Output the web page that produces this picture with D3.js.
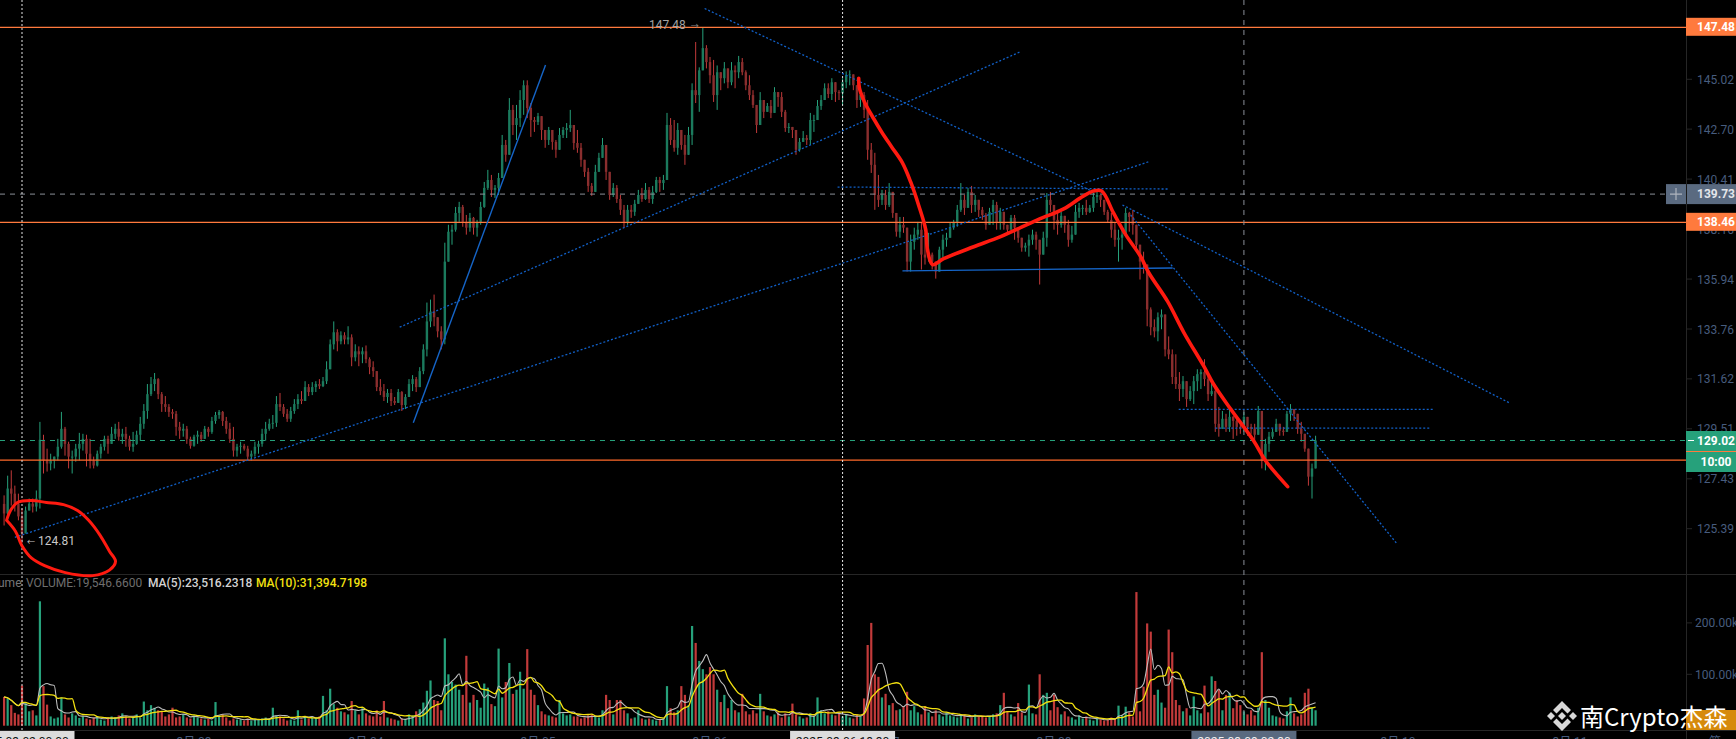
<!DOCTYPE html>
<html><head><meta charset="utf-8">
<style>html,body{margin:0;padding:0;background:#000;overflow:hidden}svg{display:block}text{font-family:Roboto,"Noto Sans CJK SC",sans-serif}</style>
<script src="https://cdn.jsdelivr.net/npm/d3@7/dist/d3.min.js"></script>
</head><body><svg id="c" width="1736" height="739"></svg>
<script>
const closes=[126.01,127.03,126.82,126.41,125.89,125.20,126.13,126.41,126.29,126.62,129.05,128.19,128.06,128.19,128.35,128.76,129.51,128.88,128.35,128.35,
128.68,128.88,129.09,128.47,128.19,127.98,128.47,128.76,129.09,128.88,129.30,129.51,129.18,129.30,129.09,128.76,128.88,129.26,129.72,130.26,
130.97,131.40,131.61,130.97,130.55,130.43,130.22,130.14,129.59,129.43,129.51,129.09,128.80,129.18,129.26,129.09,129.51,129.38,129.84,130.09,
130.22,129.84,129.51,129.09,128.60,128.76,128.80,128.68,128.35,128.47,128.76,128.88,129.30,129.51,129.72,129.76,130.55,130.43,130.14,129.93,
130.26,130.55,130.76,130.68,131.27,131.06,131.27,131.40,131.31,131.52,132.03,133.10,133.62,133.23,133.49,133.31,133.40,132.54,132.80,132.67,
132.80,132.46,132.12,131.95,131.27,131.10,130.85,131.02,130.68,130.60,131.06,130.51,130.85,131.40,131.61,131.27,131.95,132.88,134.09,134.52,
134.27,133.66,133.31,136.71,138.04,138.13,138.88,139.15,138.48,138.22,138.66,138.22,138.48,139.15,140.01,140.37,139.92,140.01,140.46,141.97,
141.52,143.59,142.89,143.21,144.05,144.74,143.68,143.12,143.03,143.30,142.66,142.20,142.66,142.11,141.75,142.43,142.66,142.75,142.89,142.06,
141.84,141.29,140.74,140.10,139.83,140.74,141.38,141.97,140.74,139.69,140.01,139.51,139.02,138.48,139.02,138.93,139.29,139.69,139.51,139.92,
139.51,139.83,140.37,140.23,140.37,142.89,142.20,141.84,142.66,141.97,141.52,142.43,144.51,144.28,145.44,146.49,145.83,145.21,144.28,145.35,
145.07,145.53,144.88,145.44,145.35,145.83,145.35,144.74,144.28,143.82,142.89,144.05,143.50,143.77,143.45,144.42,144.19,143.50,142.75,142.80,
142.66,141.75,142.11,142.29,142.20,143.12,143.12,143.77,144.05,144.60,144.33,144.88,144.42,144.37,144.88,145.21,145.25,144.74,144.05,144.28,
143.59,141.75,141.06,139.69,139.47,139.69,139.24,139.83,138.88,138.04,138.35,138.22,136.71,137.59,137.91,138.13,137.02,136.89,137.02,136.71,
136.27,137.24,137.68,137.77,138.22,138.48,139.02,139.47,139.11,139.83,139.24,139.47,139.02,138.79,138.35,138.93,139.24,138.48,138.93,138.35,
138.13,138.66,138.22,137.77,137.33,137.42,137.68,137.91,137.68,137.02,137.77,139.47,139.24,138.57,138.35,138.75,138.35,137.68,137.91,138.93,
139.11,139.11,138.93,139.11,139.60,139.69,139.47,138.93,138.57,138.13,137.68,137.77,137.91,138.88,138.70,138.35,137.46,136.71,136.58,134.61,
133.84,133.66,134.27,134.39,132.88,132.67,131.70,131.40,131.19,131.52,130.76,131.10,131.52,131.82,131.91,131.61,130.97,131.10,129.72,129.51,
129.93,129.59,130.01,129.84,129.59,129.51,130.01,129.59,129.51,129.26,130.26,128.19,128.88,129.18,129.38,129.72,129.43,129.38,130.14,130.34,
130.14,129.51,129.30,128.68,127.52,127.86,129.02];
const highs=[126.75,127.56,127.78,127.15,126.82,126.21,126.29,126.62,126.62,126.95,129.80,129.26,128.68,128.47,128.35,129.09,130.22,129.59,128.97,128.60,
128.88,129.34,129.30,129.26,129.09,128.35,128.60,128.88,129.22,129.22,129.59,129.72,129.80,129.51,129.59,129.22,129.38,129.43,130.01,130.55,
131.40,131.70,131.87,131.65,131.06,130.89,130.55,130.34,130.26,129.80,129.72,129.63,129.18,129.26,129.43,129.38,129.63,129.59,130.01,130.22,
130.30,130.26,130.01,129.76,129.59,128.88,128.97,128.88,128.80,128.60,128.97,129.01,129.51,129.80,129.93,130.09,130.89,131.02,130.55,130.34,
130.43,130.76,130.97,131.10,131.52,131.40,131.48,131.52,131.61,131.70,132.37,133.31,134.09,133.75,133.66,133.62,133.88,133.53,133.10,133.01,
132.97,133.05,132.54,132.37,131.82,131.61,131.40,131.19,131.19,130.85,131.19,131.10,130.97,131.61,131.78,131.70,132.12,133.10,134.91,135.04,
135.26,134.27,133.88,137.55,138.35,138.35,139.15,139.38,139.24,138.79,138.88,138.70,138.57,139.38,140.28,140.83,140.60,140.14,140.69,142.43,
142.20,144.14,143.82,143.82,144.51,144.97,144.97,143.91,143.26,143.45,143.21,142.66,142.80,142.66,142.20,142.75,142.80,142.98,143.59,142.75,
142.66,142.06,141.29,140.92,140.23,141.06,141.61,142.29,141.75,140.74,140.23,140.14,139.69,139.24,139.24,139.24,139.47,139.92,140.01,140.23,
140.05,140.10,140.51,140.51,140.60,143.45,143.21,143.12,142.98,142.43,142.43,142.80,144.83,146.78,145.58,147.48,146.63,146.07,145.93,145.67,
145.35,145.83,145.53,145.83,145.67,146.12,146.02,145.44,145.21,144.51,143.59,144.42,144.05,143.91,144.05,144.65,144.42,144.42,143.59,142.98,
142.80,142.29,142.29,142.61,142.43,143.45,143.36,144.05,144.28,144.83,144.83,145.07,144.83,144.51,145.07,145.39,145.44,145.21,144.74,144.51,
144.42,144.05,142.06,141.61,140.60,139.92,139.92,140.23,139.56,138.88,138.70,138.70,137.55,137.91,138.22,138.48,138.48,137.99,137.99,137.11,
136.67,137.37,137.91,137.99,138.44,138.57,139.24,140.23,139.69,140.01,140.10,139.69,139.47,139.15,138.88,139.11,139.47,139.38,139.11,138.93,
138.35,138.79,138.79,138.13,137.77,137.55,137.91,138.13,138.04,137.37,138.04,139.78,139.83,138.79,138.93,138.93,138.66,138.57,138.30,139.24,
139.33,139.24,139.47,139.24,139.78,139.92,139.69,139.47,139.02,138.88,138.44,138.13,138.13,139.11,138.93,139.02,138.04,137.37,137.15,136.49,
134.70,134.18,134.48,134.61,133.84,133.44,132.88,132.67,131.91,131.74,131.31,131.31,131.74,132.03,132.03,132.46,131.91,131.61,131.27,130.43,
130.26,130.14,130.34,130.05,130.01,129.84,130.22,129.84,129.72,129.72,130.47,130.26,129.09,129.38,129.51,129.93,129.59,129.59,130.26,130.55,
130.34,129.93,129.80,129.30,128.68,128.06,129.22];
const lows=[125.52,125.81,126.33,126.09,125.73,124.81,125.52,126.13,126.05,126.09,126.21,127.65,127.73,127.78,127.86,128.19,128.68,128.39,127.86,127.65,
128.14,128.19,128.60,127.94,127.86,127.86,127.94,128.27,128.60,128.47,128.88,129.09,129.01,128.88,128.76,128.60,128.55,128.84,129.01,129.51,
129.93,130.89,131.10,130.76,130.22,130.22,130.01,129.93,129.22,129.09,129.18,128.88,128.68,128.76,128.88,128.97,129.09,129.18,129.30,129.72,
129.93,129.63,129.30,128.92,128.35,128.35,128.47,128.60,128.19,128.19,128.35,128.47,128.76,129.01,129.43,129.51,129.59,130.26,130.01,129.80,
129.80,130.14,130.34,130.55,130.76,130.89,130.93,131.06,131.19,131.27,131.40,132.20,132.88,132.80,133.10,133.10,133.10,132.16,132.37,132.16,
132.29,132.29,131.82,131.70,131.10,130.93,130.68,130.60,130.47,130.51,130.64,130.26,130.34,130.85,131.10,131.06,131.27,131.82,132.58,133.84,
133.88,133.40,132.88,133.10,136.71,137.46,138.04,138.48,138.26,137.91,138.04,137.91,137.82,138.35,139.11,139.92,139.60,139.56,139.69,140.46,
141.20,141.52,142.43,142.20,142.80,143.36,143.21,142.34,142.57,142.89,142.20,141.84,141.97,141.75,141.38,141.84,142.29,142.29,142.57,141.75,
141.61,140.97,140.51,139.83,139.65,140.14,140.74,141.52,140.37,139.47,139.60,139.33,138.79,138.22,138.35,138.66,138.75,139.29,139.38,139.47,
139.33,139.29,139.78,139.83,139.92,140.60,141.97,141.66,141.52,141.75,141.06,141.75,141.97,143.91,143.50,145.44,145.53,144.83,143.96,143.59,
144.51,144.83,144.60,144.74,144.60,145.07,145.21,144.51,144.05,143.68,142.52,142.89,143.21,143.50,143.21,143.73,143.73,143.26,142.57,142.52,
142.29,141.52,141.66,142.11,141.97,141.97,142.57,143.12,143.59,144.05,144.14,144.05,143.96,144.05,143.82,144.60,144.74,144.51,143.68,143.73,
143.21,141.29,140.69,139.02,139.15,139.24,139.02,139.15,138.66,137.82,137.77,137.99,136.27,136.27,137.24,137.68,136.36,136.58,136.71,136.36,
135.96,136.45,136.89,137.37,137.77,138.13,138.26,138.93,138.79,139.24,138.88,138.93,138.70,138.57,138.13,138.39,138.35,138.13,138.13,138.13,
137.91,138.13,137.68,137.55,137.15,137.15,136.93,137.46,137.24,135.70,137.02,137.37,138.93,138.13,137.91,138.22,137.99,137.37,137.55,138.35,
138.66,138.79,138.79,138.88,138.93,139.33,139.15,138.79,138.44,137.77,137.37,136.71,137.24,137.99,138.04,137.91,137.24,135.92,136.18,133.88,
133.49,133.40,133.23,133.75,132.58,132.46,131.40,131.19,130.68,130.85,130.43,130.68,130.55,131.10,131.19,131.31,130.68,130.89,129.38,129.18,
129.59,129.38,129.38,129.09,129.22,129.30,129.38,129.22,129.30,129.01,129.38,127.86,127.78,128.55,129.09,129.38,129.22,129.22,129.51,129.84,
129.84,129.30,128.97,128.55,127.15,126.62,127.86];
const volumes=[56,52,40,25,22,78,44,28,30,20,242,77,41,18,14,16,55,22,16,24,
20,15,18,14,12,16,18,12,10,16,18,16,20,24,18,14,16,22,15,47,
30,40,35,30,28,18,22,35,16,18,22,16,14,20,16,14,12,14,10,46,
20,22,16,10,14,12,12,10,14,10,12,12,14,16,12,35,20,18,14,10,
12,10,30,12,18,14,16,14,18,58,30,72,42,35,28,26,22,48,30,22,
34,24,20,18,30,18,48,16,14,12,10,14,12,22,20,28,32,45,68,88,
50,48,30,170,100,85,80,70,60,136,45,60,50,35,82,74,42,38,150,55,
85,122,62,70,105,72,149,70,60,40,28,22,20,18,16,50,24,20,22,18,
18,14,16,20,22,18,16,30,60,50,22,50,50,30,24,14,16,30,14,12,
14,12,10,12,14,77,34,26,30,77,60,40,194,161,126,110,100,114,100,70,
46,60,34,50,30,26,62,28,22,30,24,62,28,20,18,22,26,16,24,18,
43,22,18,14,16,24,18,55,30,24,28,22,20,26,18,22,16,14,22,18,
53,157,200,100,95,55,62,40,44,30,32,38,66,30,38,26,22,38,26,18,
30,22,18,26,20,18,16,20,22,14,16,22,18,20,16,18,22,24,40,64,
28,22,18,44,26,20,80,24,22,100,60,64,30,60,36,22,28,18,16,12,
20,14,18,12,10,14,12,10,12,16,14,39,20,37,26,18,260,28,76,199,
183,60,70,45,35,187,143,50,40,28,34,20,57,30,24,78,26,96,87,70,
30,60,64,34,50,40,28,22,30,20,35,143,50,35,20,18,16,14,28,55,
24,18,22,64,72,35,30];
const firstOpen=126.40;
const seriesStart="2025-03-01T21:30:00Z";
const priceTicks=[145.02,142.70,140.41,138.16,135.94,133.76,131.62,129.51,127.43,125.39];
const volumeTicks=[200,100];
const dayTicks=[["2025-03-03","3月 03"],["2025-03-04","3月 04"],["2025-03-05","3月 05"],["2025-03-06","3月 06"],["2025-03-07","3月 07"],["2025-03-08","3月 08"],["2025-03-10","3月 10"],["2025-03-11","3月 11"]];
const highLevels=[147.48,138.46];
const lastPrice=129.02, orderLevel=128.20, crossPrice=139.73, lowPrice=124.81;
const crossBars=[{bar:5,label:"2025-03-02 00:00",kind:"light"},{bar:234,label:"2025-03-06 18:30",kind:"light"},{bar:346,label:"2025-03-09 02:30",kind:"dark"}];
// drawings: [bar index, price]
const riseLow=[[3.0,125.04],[319.4,141.2]];
const riseHigh=[[110.4,133.84],[283.4,146.3]];
const steepSolid=[[114.2,129.76],[151.1,145.69]];
const fallLong=[[195.5,148.38],[304,139.83]];
const fallRight=[[312.1,139.24],[420.1,130.60]];
const fallSteep=[[314.4,138.79],[388.6,124.8]];
const flatTop=[[232.6,140.05],[324.8,139.96]];
const flatSolid=[[250.7,136.30],[326.1,136.43]];
const flatLow1=[[327.8,130.33],[398.8,130.33]];
const flatLow2=[[338,129.54],[397.8,129.54]];
const redPath=[[238.5,145.07],[238.7,144.60],[240.1,143.96],[242.4,143.26],[244.9,142.57],[247.7,141.88],[250.7,141.15],[253,140.28],[255.2,139.24],[257.2,138.13],[257.7,137.24],[259.1,136.58],[262.2,136.84],[270.6,137.37],[278.1,137.82],[288.4,138.57],[295.7,139.06],[300.4,139.56],[304,139.87],[306.3,139.87],[309.6,138.88],[313,137.91],[317.2,136.93],[319.4,136.23],[324.7,134.96],[329.2,133.62],[334.8,132.16],[337.5,131.40],[342.3,130.34],[348.7,129.01],[352,128.19],[358.2,127.11]];
const redLoop=[[0.7,125.73],[1.8,126.13],[3.7,126.46],[7.6,126.54],[11.8,126.46],[16.6,126.37],[20.5,126.13],[23.6,125.73],[26.8,125.12],[29.4,124.48],[31.1,124.07],[29.4,123.72],[24.7,123.50],[17.1,123.62],[11.3,123.9],[7.6,124.21],[4.9,124.72],[3.2,125.28],[0.7,125.73]];

const svg=d3.select("#c");
const t0=+new Date(seriesStart), STEP=30*60000;
const timeOf=b=>new Date(t0+b*STEP);
const xT=d3.scaleUtc().domain([new Date("2025-03-02T00:00:00Z"),new Date("2025-03-11T00:00:00Z")]).range([22,1570]);
const x=b=>xT(timeOf(b));
const y=d3.scaleLog().domain([147.48,125.39]).range([27.3,528.7]);
const v=d3.scaleLinear().domain([0,200]).range([725.7,622.9]);
const GREEN="#26a17b",RED="#c23a3a",GD="#1b7a5d",RD="#8a2e2e",AX="#262626",TICK="#475c7e";
const opens=closes.map((c,i)=>i?closes[i-1]:firstOpen);
const candles=closes.map((c,i)=>({i,o:opens[i],c,h:highs[i],l:lows[i],vol:volumes[i],up:c>=opens[i]}));

// frame
const g=svg.append("g");
g.append("line").attr("x1",0).attr("x2",1736).attr("y1",574.5).attr("y2",574.5).attr("stroke",AX);
g.append("line").attr("x1",0).attr("x2",1736).attr("y1",730.5).attr("y2",730.5).attr("stroke",AX);
g.append("line").attr("x1",1686.5).attr("x2",1686.5).attr("y1",0).attr("y2",739).attr("stroke",AX);

// volume
const gv=svg.append("g");
gv.selectAll("rect").data(candles).join("rect").attr("x",d=>x(d.i)-1.1).attr("width",2.2)
 .attr("y",d=>v(d.vol)).attr("height",d=>v(0)-v(d.vol)).attr("fill",d=>d.up?GREEN:RED);
const rolling=n=>volumes.map((_,i)=>d3.mean(volumes.slice(Math.max(0,i-n+1),i+1)));
const vline=d3.line().x((d,i)=>x(i)).y(d=>v(d)).curve(d3.curveMonotoneX);
gv.append("path").attr("d",vline(rolling(5))).attr("fill","none").attr("stroke","#bdbdbd").attr("stroke-width",1.1);
gv.append("path").attr("d",vline(rolling(10))).attr("fill","none").attr("stroke","#f2e010").attr("stroke-width",1.3);

// candles
const gc=svg.append("g");
gc.selectAll("line").data(candles).join("line").attr("x1",d=>x(d.i)).attr("x2",d=>x(d.i))
 .attr("y1",d=>y(Math.max(d.h,d.o,d.c))).attr("y2",d=>y(Math.min(d.l,d.o,d.c)))
 .attr("stroke",d=>d.up?GREEN:RED).attr("stroke-width",1);
gc.selectAll("rect").data(candles).join("rect").attr("x",d=>x(d.i)-1.2).attr("width",2.4)
 .attr("y",d=>y(Math.max(d.o,d.c))).attr("height",d=>Math.max(1,Math.abs(y(d.o)-y(d.c))))
 .attr("fill",d=>d.up?GD:RD);

// level lines
const hl=(p,stroke,w,dash)=>svg.append("line").attr("x1",0).attr("x2",1686).attr("y1",y(p)).attr("y2",y(p)).attr("stroke",stroke).attr("stroke-width",w).attr("stroke-dasharray",dash||null);
highLevels.forEach(p=>hl(p,"#ff7a3d",1.3));
hl(orderLevel,"#ff6a2a",1.3);
hl(lastPrice,GREEN,1,"5,5");
svg.append("line").attr("x1",0).attr("x2",1666).attr("y1",y(crossPrice)).attr("y2",y(crossPrice)).attr("stroke","#8a8f98").attr("stroke-dasharray","5,5");
crossBars.forEach(c=>svg.append("line").attr("x1",x(c.bar)).attr("x2",x(c.bar)).attr("y1",0).attr("y2",730)
 .attr("stroke",c.kind==="light"?"#e6e6e6":"#8a8f98").attr("stroke-dasharray",c.kind==="light"?"2,2":"5,5"));

// drawings
const dl=d3.line().x(d=>x(d[0])).y(d=>y(d[1]));
[riseLow,riseHigh,fallLong,fallRight,fallSteep,flatTop,flatLow1,flatLow2].forEach(l=>
 svg.append("path").attr("d",dl(l)).attr("fill","none").attr("stroke","#1160c8").attr("stroke-width",1.3).attr("stroke-dasharray","2,2"));
[steepSolid,flatSolid].forEach(l=>svg.append("path").attr("d",dl(l)).attr("fill","none").attr("stroke","#1565c8").attr("stroke-width",1.4));
const ds=d3.line().x(d=>x(d[0])).y(d=>y(d[1])).curve(d3.curveCatmullRom);
[redPath,redLoop].forEach(l=>svg.append("path").attr("d",ds(l)).attr("fill","none").attr("stroke","#ff1a10").attr("stroke-width",l===redPath?3.6:3).attr("stroke-linecap","round").attr("stroke-linejoin","round"));

// chart notes
const txt=(px,py,s,fill,opt={})=>svg.append("text").attr("x",px).attr("y",py).text(s).attr("fill",fill)
 .attr("font-size",opt.size||12).attr("font-weight",opt.weight||400).attr("text-anchor",opt.anchor||"start").attr("dominant-baseline",opt.base||"auto");
txt(x(195)-17,y(147.48)+2,"147.48","#a3a3a3",{anchor:"end"});
txt(x(195)-12,y(147.48)+2,"→","#8a8a8a",{size:8});
txt(x(5)+5,y(lowPrice)+2,"←","#c8c8c8",{size:8});
txt(x(5)+16,y(lowPrice)+2,"124.81","#c8c8c8");

// legend
txt(-2,587,"ume","#777");
txt(26,587,"VOLUME:19,546.6600","#6e6e6e");
txt(148,587,"MA(5):23,516.2318","#d4d4d4",{weight:500});
txt(256,587,"MA(10):31,394.7198","#f2e010",{weight:500});

// axes
const ay=svg.append("g");
priceTicks.forEach(p=>{
 ay.append("line").attr("x1",1687).attr("x2",1692).attr("y1",y(p)).attr("y2",y(p)).attr("stroke",AX);
 ay.append("text").attr("x",1697).attr("y",y(p)+4.5).text(p.toFixed(2)).attr("fill",TICK).attr("font-size",12);
});
volumeTicks.forEach(k=>{
 ay.append("line").attr("x1",1687).attr("x2",1692).attr("y1",v(k)).attr("y2",v(k)).attr("stroke",AX);
 ay.append("text").attr("x",1695).attr("y",v(k)+4.5).text(k.toFixed(2)+"k").attr("fill",TICK).attr("font-size",12);
});
dayTicks.forEach(d=>txt(xT(new Date(d[0]+"T00:00:00Z")),746,d[1],TICK,{anchor:"middle"}));
txt(1709,746,"第 一",TICK);

// crosshair labels
crossBars.forEach(c=>{const cx=x(c.bar);
 svg.append("rect").attr("x",cx-52.5).attr("y",731).attr("width",105).attr("height",10).attr("fill",c.kind==="light"?"#dcdcdc":"#5a6a80");
 txt(cx,746,c.label,c.kind==="light"?"#111":"#f0f0f0",{anchor:"middle"});
});

// price tags
const tag=(p,top,h,fill,label,fg)=>{svg.append("rect").attr("x",1686).attr("y",top).attr("width",50).attr("height",h).attr("fill",fill);
 txt(1716,top+h/2+4.3,label,fg||"#fff",{anchor:"middle",weight:700});};
highLevels.forEach(p=>tag(p,y(p)-9.5,18,"#ff7a3d",p.toFixed(2)));
svg.append("rect").attr("x",1666).attr("y",y(crossPrice)-10).attr("width",70).attr("height",20).attr("fill","#5a6a80");
svg.append("line").attr("x1",1686.5).attr("x2",1686.5).attr("y1",y(crossPrice)-10).attr("y2",y(crossPrice)+10).attr("stroke","#1a1a1a");
svg.append("path").attr("d",`M1670 ${y(crossPrice)}h12M1676 ${y(crossPrice)-6}v12`).attr("stroke","#aeb4bd").attr("stroke-width",1.2);
txt(1716,y(crossPrice)+4.3,crossPrice.toFixed(2),"#e4e6ea",{anchor:"middle",weight:700});
tag(lastPrice,431,20,"#26a17b",lastPrice.toFixed(2));
svg.append("line").attr("x1",1686).attr("x2",1736).attr("y1",451.5).attr("y2",451.5).attr("stroke","#ff7a3d").attr("stroke-width",1);
tag(lastPrice,452,20,"#26a17b","10:00");
svg.append("line").attr("x1",1688).attr("x2",1694).attr("y1",y(lastPrice)).attr("y2",y(lastPrice)).attr("stroke","#fff");

// watermark
svg.append("rect").attr("x",1686).attr("y",710).attr("width",50).attr("height",20).attr("fill","#d68a0c");
const logo=svg.append("g").attr("transform","translate(1562,716)").attr("fill","#d8d8d8");
logo.append("path").attr("d","M0 -15L9 -6L5.5 -2.5L0 -8L-5.5 -2.5L-9 -6Z");
logo.append("path").attr("d","M0 15L9 6L5.5 2.5L0 8L-5.5 2.5L-9 6Z");
logo.append("path").attr("d","M-15 0L-11 -4L-7 0L-11 4Z");
logo.append("path").attr("d","M15 0L11 -4L7 0L11 4Z");
logo.append("path").attr("d","M0 -4L4 0L0 4L-4 0Z");
svg.append("text").attr("x",1580).attr("y",726).text("南Crypto杰森").attr("fill","#fff").attr("font-size",24).style("font-family",'"Noto Sans CJK SC",sans-serif');
</script></body></html>
